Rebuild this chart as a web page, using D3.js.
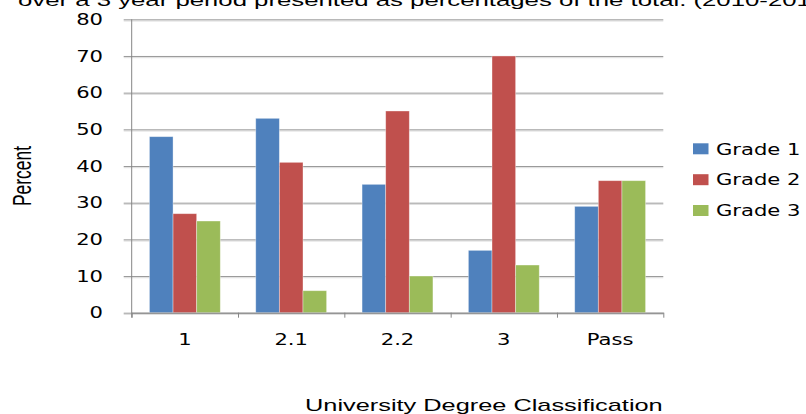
<!DOCTYPE html>
<html>
<head>
<meta charset="utf-8">
<script src="https://cdn.jsdelivr.net/npm/d3@7"></script>
<style>
  body { margin: 0; background: #fff; }
  svg { display: block; }
</style>
</head>
<body>
<div id="chart"></div>
<script>
var categories = ["1", "2.1", "2.2", "3", "Pass"];
var seriesNames = ["Grade 1", "Grade 2", "Grade 3"];
var grade1 = [48, 53, 35, 17, 29];
var grade2 = [27, 41, 55, 70, 36];
var grade3 = [25, 6, 10, 13, 36];
var yTicks = [0, 10, 20, 30, 40, 50, 60, 70, 80];
var colors = ["#4F81BD", "#C0504D", "#9BBB59"];

var width = 806, height = 414;
var plotLeft = 131.7, plotRight = 663.3, plotTop = 19.3, plotBottom = 312.7;
var sx = 1.32; // picture is stretched sideways

var svg = d3.select("#chart").append("svg").attr("width", width).attr("height", height);

var y = d3.scaleLinear().domain([0, 80]).range([plotBottom, plotTop]);
var x0 = d3.scaleBand().domain(categories).range([plotLeft, plotRight]);
var bw = x0.bandwidth();
var gap = bw * 0.75 / 4.5;
var x1 = d3.scaleBand().domain(seriesNames).range([gap, bw - gap]);
var xEdges = d3.scaleLinear().domain([0, categories.length]).range([plotLeft, plotRight]);

function label(x, yy, txt, size, family, anchor) {
  return svg.append("text")
    .attr("transform", "translate(" + x + "," + yy + ") scale(" + sx + ",1)")
    .attr("text-anchor", anchor || "start")
    .attr("font-family", family)
    .attr("font-size", size + "px")
    .attr("fill", "#000")
    .text(txt);
}

// title (clipped at the top of the picture)
label(18, 5.5, "over a 3 year period presented as percentages of the total. (2010-2013)", 16, "Liberation Sans, Arial, sans-serif")
  .attr("textLength", 618).attr("lengthAdjust", "spacingAndGlyphs");

// gridlines + y axis
var yAxis = d3.axisLeft(y).tickValues(yTicks).tickSize(8).tickFormat("");
var gy = svg.append("g").attr("transform", "translate(" + plotLeft + ",0)").call(yAxis);
gy.select(".domain").remove();
gy.selectAll(".tick").each(function(d) {
  d3.select(this).append("line").attr("x1", -8).attr("x2", plotRight - plotLeft)
    .attr("y1", 1.2).attr("y2", 1.2).attr("stroke", "#dcdcdc").attr("stroke-width", 1);
});
gy.selectAll(".tick line").filter(function() { return d3.select(this).attr("y1") == null; })
  .attr("x2", plotRight - plotLeft).attr("x1", -8).attr("stroke", "#9a9a9a").attr("stroke-width", 1).raise();

yTicks.forEach(function(t) {
  label(103, y(t), t, 16, "DejaVu Sans, sans-serif", "end").attr("dy", "0.36em");
});

// bars
var series = [grade1, grade2, grade3];
var rows = categories.map(function(c, i) {
  return seriesNames.map(function(s, j) { return { cat: c, name: s, value: series[j][i], k: j }; });
});

svg.append("g").selectAll("g").data(rows).join("g")
  .attr("transform", function(d, i) { return "translate(" + x0(categories[i]) + ",0)"; })
  .selectAll("rect").data(function(d) { return d; }).join("rect")
    .attr("x", function(d) { return x1(d.name); })
    .attr("y", function(d) { return y(d.value); })
    .attr("width", x1.bandwidth())
    .attr("height", function(d) { return y(0) - y(d.value); })
    .attr("fill", function(d) { return colors[d.k]; })
    .attr("stroke", "rgba(255,255,255,0.45)")
    .attr("stroke-width", 0.8);

// axis lines
svg.append("line").attr("x1", plotLeft).attr("x2", plotLeft).attr("y1", plotTop).attr("y2", plotBottom + 5)
  .attr("stroke", "#868686").attr("stroke-width", 1);

var xAxis = d3.axisBottom(xEdges).tickValues(d3.range(categories.length + 1)).tickSize(5).tickFormat("").tickSizeOuter(0);
var gx = svg.append("g").attr("transform", "translate(0," + plotBottom + ")").call(xAxis);
gx.select(".domain").attr("stroke", "#868686");
gx.selectAll(".tick line").attr("stroke", "#868686");

categories.forEach(function(c) {
  label(x0(c) + bw / 2, 345, c, 16, "DejaVu Sans, sans-serif", "middle");
});

// axis titles
label(305, 411, "University Degree Classification", 16, "Liberation Sans, Arial, sans-serif")
  .attr("textLength", 271).attr("lengthAdjust", "spacingAndGlyphs");

svg.append("text")
  .attr("transform", "translate(31," + 176 + ") scale(" + sx + ",1) rotate(-90)")
  .attr("text-anchor", "middle")
  .attr("font-family", "Liberation Sans Narrow, Arial Narrow, sans-serif")
  .attr("font-size", "19px")
  .attr("textLength", 60).attr("lengthAdjust", "spacingAndGlyphs")
  .text("Percent");

// legend
var legendY = [148.8, 179.7, 210.5];
seriesNames.forEach(function(s, i) {
  svg.append("rect").attr("x", 693).attr("y", legendY[i] - 5.5)
    .attr("width", 15.5).attr("height", 11).attr("fill", colors[i]);
  label(716, legendY[i], s, 16, "DejaVu Sans, sans-serif").attr("dy", "0.36em");
});
</script>
</body>
</html>
